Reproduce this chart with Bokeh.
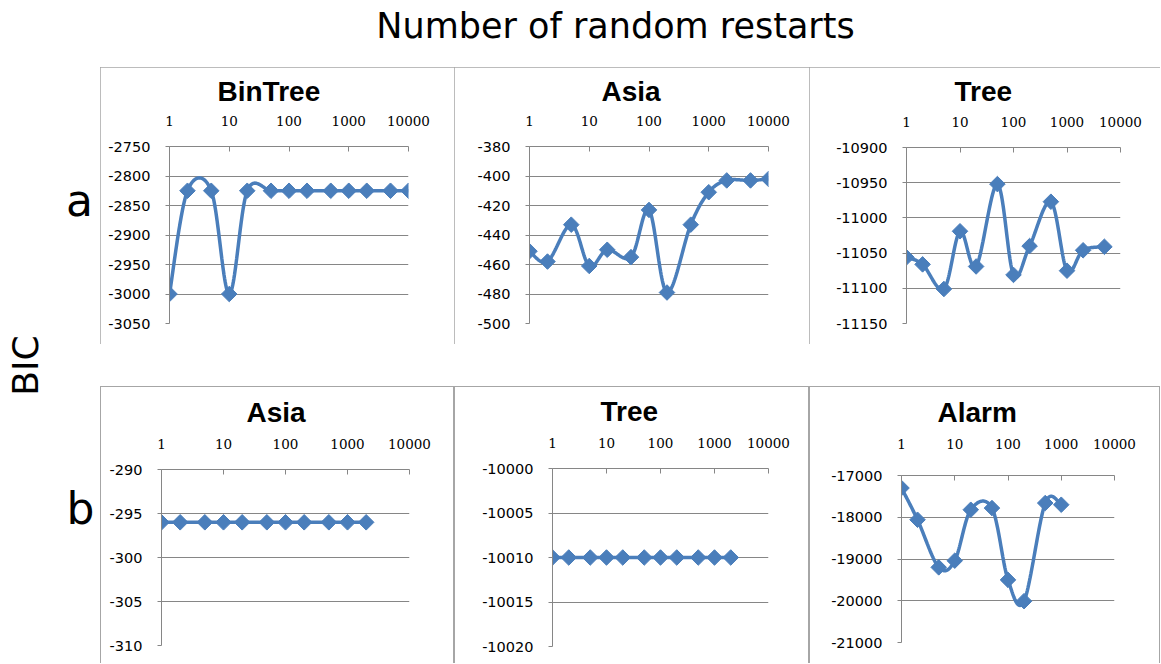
import numpy as np
from bokeh.plotting import figure
from bokeh.layouts import row, column
from bokeh.models import Range1d, FixedTicker, NumeralTickFormatter, Spacer, Title
from bokeh.core.properties import value
from bokeh.embed import file_html
from bokeh.resources import INLINE

# ---------------- data ----------------
restarts = [1, 2, 5, 10, 20, 50, 100, 200, 500, 1000, 2000, 5000, 10000]

bintree_a = [-3000, -2825, -2825, -3000, -2825, -2825, -2825, -2825, -2825, -2825, -2825, -2825, -2825]
asia_a = [-451, -458, -433, -461, -450, -455, -423, -479, -433, -411, -403, -403, -402]
tree_a = [-11056, -11066, -11101, -11019, -11069, -10952, -11081, -11040, -10977, -11075, -11046, -11041]
asia_b = [-296, -296, -296, -296, -296, -296, -296, -296, -296, -296, -296]
tree_b = [-10010, -10010, -10010, -10010, -10010, -10010, -10010, -10010, -10010, -10010, -10010]
alarm_b = [-17300, -18060, -19200, -19040, -17820, -17780, -19500, -20010, -17660, -17700]

x_ticks = [1, 10, 100, 1000, 10000]
y_ticks_bintree = [-3050, -3000, -2950, -2900, -2850, -2800, -2750]
y_ticks_asia_a = [-500, -480, -460, -440, -420, -400, -380]
y_ticks_tree_a = [-11150, -11100, -11050, -11000, -10950, -10900]
y_ticks_asia_b = [-310, -305, -300, -295, -290]
y_ticks_tree_b = [-10020, -10015, -10010, -10005, -10000]
y_ticks_alarm = [-21000, -20000, -19000, -18000, -17000]

BLUE = "#4A7EBB"
GRID = "#868686"
EDGE = "#a6a6a6"


def smooth(xs, ys, n=30):
    """Excel-like smoothed line (Catmull-Rom Bezier) in log-x / linear-y space."""
    lx = np.log10(np.asarray(xs, float))
    y = np.asarray(ys, float)
    pts = np.column_stack([lx, y])
    m = len(pts)
    out = [pts[0]]
    t = np.linspace(0, 1, n + 1)[1:][:, None]
    for i in range(m - 1):
        p0 = pts[i - 1] if i > 0 else pts[i]
        p1 = pts[i]
        p2 = pts[i + 1]
        p3 = pts[i + 2] if i + 2 < m else pts[i + 1]
        c1 = p1 + (p2 - p0) / 6.0
        c2 = p2 - (p3 - p1) / 6.0
        b = ((1 - t) ** 3) * p1 + 3 * ((1 - t) ** 2) * t * c1 + 3 * (1 - t) * t ** 2 * c2 + t ** 3 * p2
        out.extend(list(b))
    out = np.array(out)
    return 10 ** out[:, 0], out[:, 1]


def panel(title, ys, yr, yticks, w, h, bl, br, bt, bb, toff, tstand, xstand, bottom_row=False):
    xs = restarts[:len(ys)]
    p = figure(width=w, height=h, x_axis_type="log", x_range=Range1d(1, 10000),
               y_range=Range1d(yr[0], yr[1]), x_axis_location="above",
               output_backend="svg", toolbar_location=None,
               min_border_left=bl, min_border_right=br, min_border_top=bt, min_border_bottom=bb,
               title_location=None)
    p.add_layout(Title(text=title, align="left", offset=toff, standoff=tstand,
                       vertical_align="middle",
                       text_font="Liberation Sans", text_font_size="28px", text_font_style="bold",
                       text_color="#000000"), "above")
    p.outline_line_color = None
    p.background_fill_color = "white"
    if bottom_row:
        p.border_fill_color = None
        p.styles = {"box-shadow": f"inset 1px 1px 0 0 {EDGE}, inset -1px 0 0 0 {EDGE}"}
    else:
        p.border_fill_color = "white"
        p.styles = {"outline": f"1px solid {EDGE}", "outline-offset": "-1px"}

    xa = p.xaxis[0]
    xa.ticker = FixedTicker(ticks=x_ticks, minor_ticks=[])
    xa.formatter = NumeralTickFormatter(format="0")
    xa.major_tick_in = 5
    xa.major_tick_out = 0
    xa.minor_tick_line_color = None
    xa.axis_line_color = GRID
    xa.major_tick_line_color = GRID
    xa.major_label_text_font = "DejaVu Serif"
    xa.major_label_text_font_size = "13.5px"
    xa.major_label_text_color = "#000000"
    xa.major_label_standoff = xstand

    ya = p.yaxis[0]
    ya.ticker = FixedTicker(ticks=yticks, minor_ticks=[])
    ya.formatter = NumeralTickFormatter(format="0")
    ya.major_tick_in = 0
    ya.major_tick_out = 4
    ya.minor_tick_line_color = None
    ya.axis_line_color = GRID
    ya.major_tick_line_color = GRID
    ya.major_label_text_font = "DejaVu Sans"
    ya.major_label_text_font_size = "14.5px"
    ya.major_label_text_color = "#000000"
    ya.major_label_standoff = 15

    p.xgrid.grid_line_color = None
    p.ygrid.grid_line_color = GRID
    p.ygrid.ticker = FixedTicker(ticks=yticks)

    sx, sy = smooth(xs, ys)
    p.line(sx, sy, line_color=BLUE, line_width=3.5)
    p.scatter(xs, ys, marker="square", angle=np.pi / 4, size=11,
              fill_color=BLUE, line_color=BLUE)
    return column(p)


p1 = panel("BinTree", bintree_a, (-3050, -2750), y_ticks_bintree, 354, 277, 69, 46, 79, 21, 48, 9.5, 21)
p2 = panel("Asia", asia_a, (-500, -380), y_ticks_asia_a, 355, 277, 75, 41, 79, 21, 72, 9.5, 21)
p3 = panel("Tree", tree_a, (-11150, -10900), y_ticks_tree_a, 351, 277, 97, 40, 80, 21, 48, 10.5, 21)
p4 = panel("Asia", asia_b, (-310, -290), y_ticks_asia_b, 354, 277, 61, 45, 83, 18, 85, 13.5, 21, True)
p5 = panel("Tree", tree_b, (-10020, -10000), y_ticks_tree_b, 355, 277, 98, 41, 82, 17, 48, 12.5, 21, True)
p6 = panel("Alarm", alarm_b, (-21000, -17000), y_ticks_alarm, 351, 277, 92, 46, 89, 21, 36, 13.5, 27, True)


def blank(w, h):
    f = figure(width=w, height=h, x_range=Range1d(0, w), y_range=Range1d(0, h),
               output_backend="svg", toolbar_location=None, min_border=0,
               x_axis_location=None, y_axis_location=None, title_location=None)
    f.grid.grid_line_color = None
    f.outline_line_color = None
    f.background_fill_color = "white"
    f.border_fill_color = "white"
    return f


HDR_H = 67
LEFT_W = 100
LEFT_H = 663 - HDR_H

hdr = blank(1160, HDR_H)
hdr.text(x=[615], y=[HDR_H - 25], text=["Number of random restarts"], text_align="center",
         text_baseline="alphabetic", text_font=value("DejaVu Sans"), text_font_size="35px",
         text_color="#000000")

left = blank(LEFT_W, LEFT_H)
left.text(x=[79, 80], y=[663 - 200, 663 - 508], text=["a", "b"], text_align="center",
          text_baseline="alphabetic", text_font=value("DejaVu Sans"), text_font_size="44px",
          text_color="#000000")
left.text(x=[24.5], y=[663 - 365], text=["BIC"], angle=np.pi / 2, text_align="center",
          text_baseline="alphabetic", text_font=value("DejaVu Sans"), text_font_size="36px",
          text_color="#000000")

grid = column(row(p1, p2, p3), Spacer(width=1060, height=42), row(p4, p5, p6))
layout = column(hdr, row(left, grid))

open("out.html", "w").write(file_html(layout, INLINE))
